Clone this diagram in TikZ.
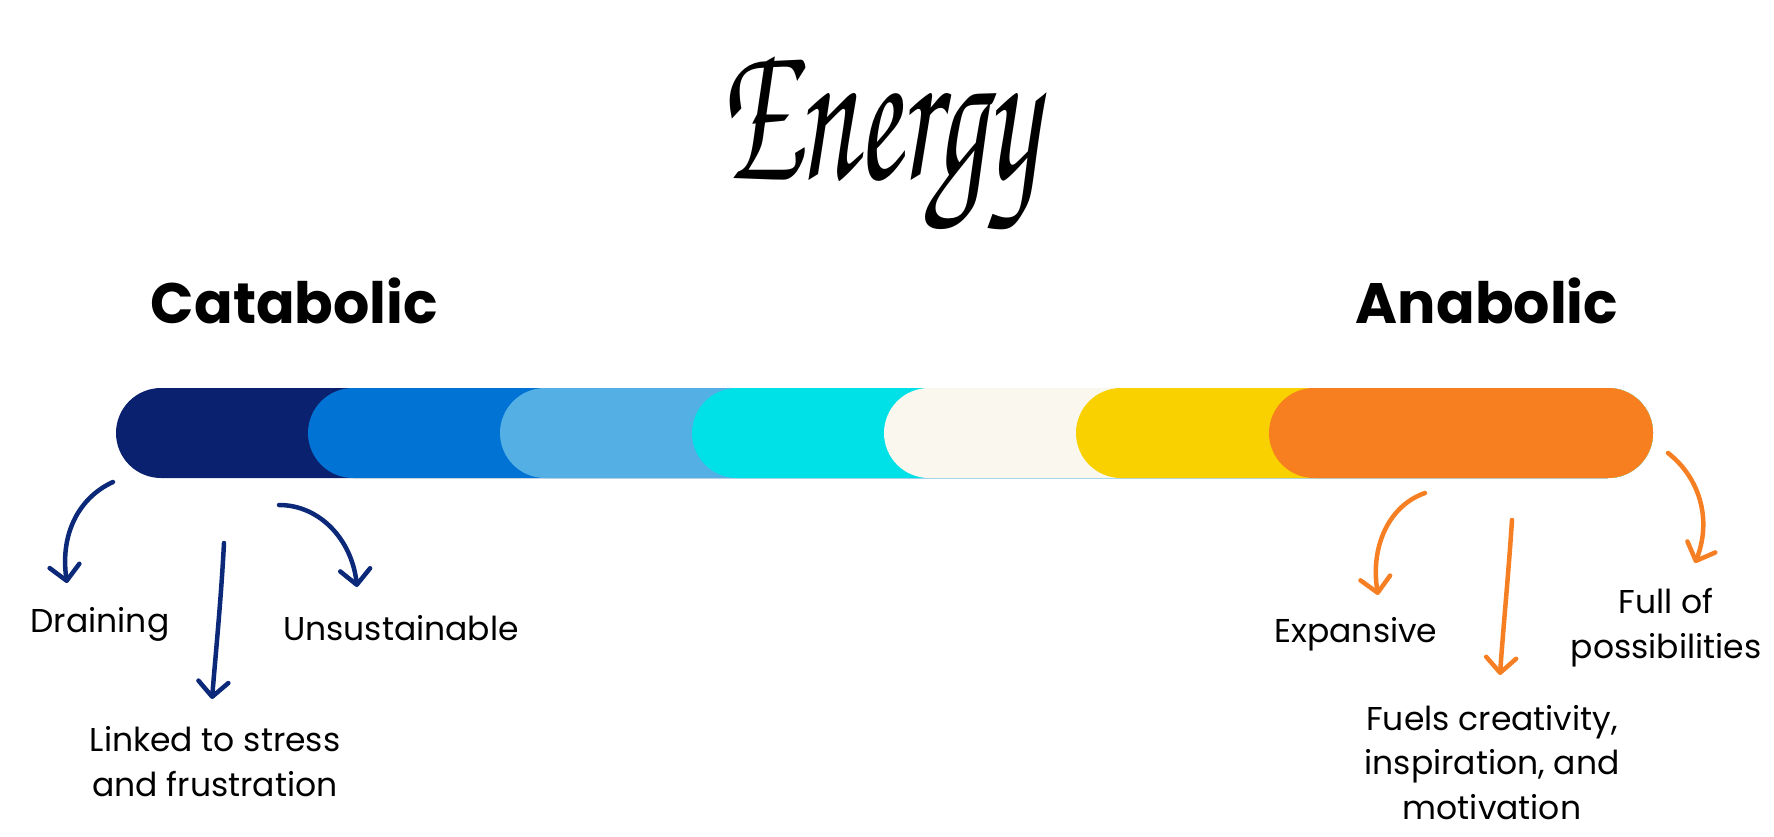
\documentclass[tikz,border=0pt]{standalone}
\usepackage{fontspec}
\setmainfont{Poppins}
\newfontfamily\chorus{texgyrechorus-mediumitalic.otf}
\usetikzlibrary{arrows.meta}
\definecolor{cnavy}{HTML}{0A2170}
\definecolor{cblue}{HTML}{0073D5}
\definecolor{clight}{HTML}{53AFE4}
\definecolor{ccyan}{HTML}{00E1E7}
\definecolor{ccream}{HTML}{FAF7EF}
\definecolor{cyellow}{HTML}{F9D101}
\definecolor{corange}{HTML}{F77F1F}
\definecolor{anavy}{HTML}{0C2878}
\definecolor{aorange}{HTML}{F57F22}
\tikzset{
  seg/.style={rounded corners=45pt},
  head/.style={font=\fontsize{57}{68}\selectfont\bfseries, inner sep=0pt, anchor=base},
  lbl/.style={font=\fontsize{33}{44.5}\selectfont, inner sep=0pt, align=center, anchor=base},
  harrow/.style={line width=4.5pt, line cap=round, -{Straight Barb[length=15pt,width=30pt,round]}},
  narrow/.style={harrow, draw=anavy},
  oarrow/.style={harrow, draw=aorange},
}
\begin{document}
\begin{tikzpicture}[x=1pt,y=-1pt]
\useasboundingbox (0,0) rectangle (1774,837);
\fill[white] (0,0) rectangle (1774,837);
% title
\node[inner sep=0pt] (title) at (878,143.5) {\resizebox*{320pt}{173pt}{\chorus Energy}};
\node[head] (cat) at (294.5,323) {Catabolic};
\node[head] (ana) at (1487,323) {Anabolic};
% bar
\fill[cnavy,seg] (116,388) rectangle (1653,478);
\fill[cblue,seg] (308,388) rectangle (1653,478);
\fill[clight,seg] (500,388) rectangle (1653,478);
\fill[ccyan,seg] (692,388) rectangle (1653,478);
\fill[ccream,seg] (884,388) rectangle (1653,478);
\fill[cyellow,seg] (1076,388) rectangle (1653,478);
\fill[corange,seg] (1269,388) rectangle (1653,478);
\node[inner sep=0pt, minimum width=1537pt, minimum height=90pt] (bar) at (884.5,433) {};
% labels (base = baseline of last line)
\node[lbl] (drain) at (100,632) {Draining};
\node[lbl] (unsus) at (401,640) {Unsustainable};
\node[lbl] (linked) at (215,796) {Linked to stress\\and frustration};
\node[lbl] (expan) at (1356,642) {Expansive};
\node[lbl] (fuels) at (1492,819) {Fuels creativity,\\inspiration, and\\motivation};
\node[lbl] (full) at (1666,658) {Full of\\possibilities};
% arrow anchors
\coordinate (d0) at (113,482); \coordinate (d1) at (67,583);
\coordinate (l0) at (224,543); \coordinate (l1) at (212,699);
\coordinate (u0) at (279,505); \coordinate (u1) at (357,587);
\coordinate (e0) at (1425,493); \coordinate (e1) at (1378,595);
\coordinate (f0) at (1512,520); \coordinate (f1) at (1500,675);
\coordinate (p0) at (1668,453); \coordinate (p1) at (1695,563);
\draw[narrow] (d0) .. controls (78,498) and (60,535) .. (d1);
\draw[narrow] (l0) .. controls (221,600) and (216,650) .. (l1);
\draw[narrow] (u0) .. controls (320,505) and (352,540) .. (u1);
\draw[oarrow] (e0) .. controls (1390,505) and (1370,545) .. (e1);
\draw[oarrow] (f0) .. controls (1508,580) and (1503,630) .. (f1);
\draw[oarrow] (p0) .. controls (1700,478) and (1712,520) .. (p1);
\end{tikzpicture}
\end{document}
